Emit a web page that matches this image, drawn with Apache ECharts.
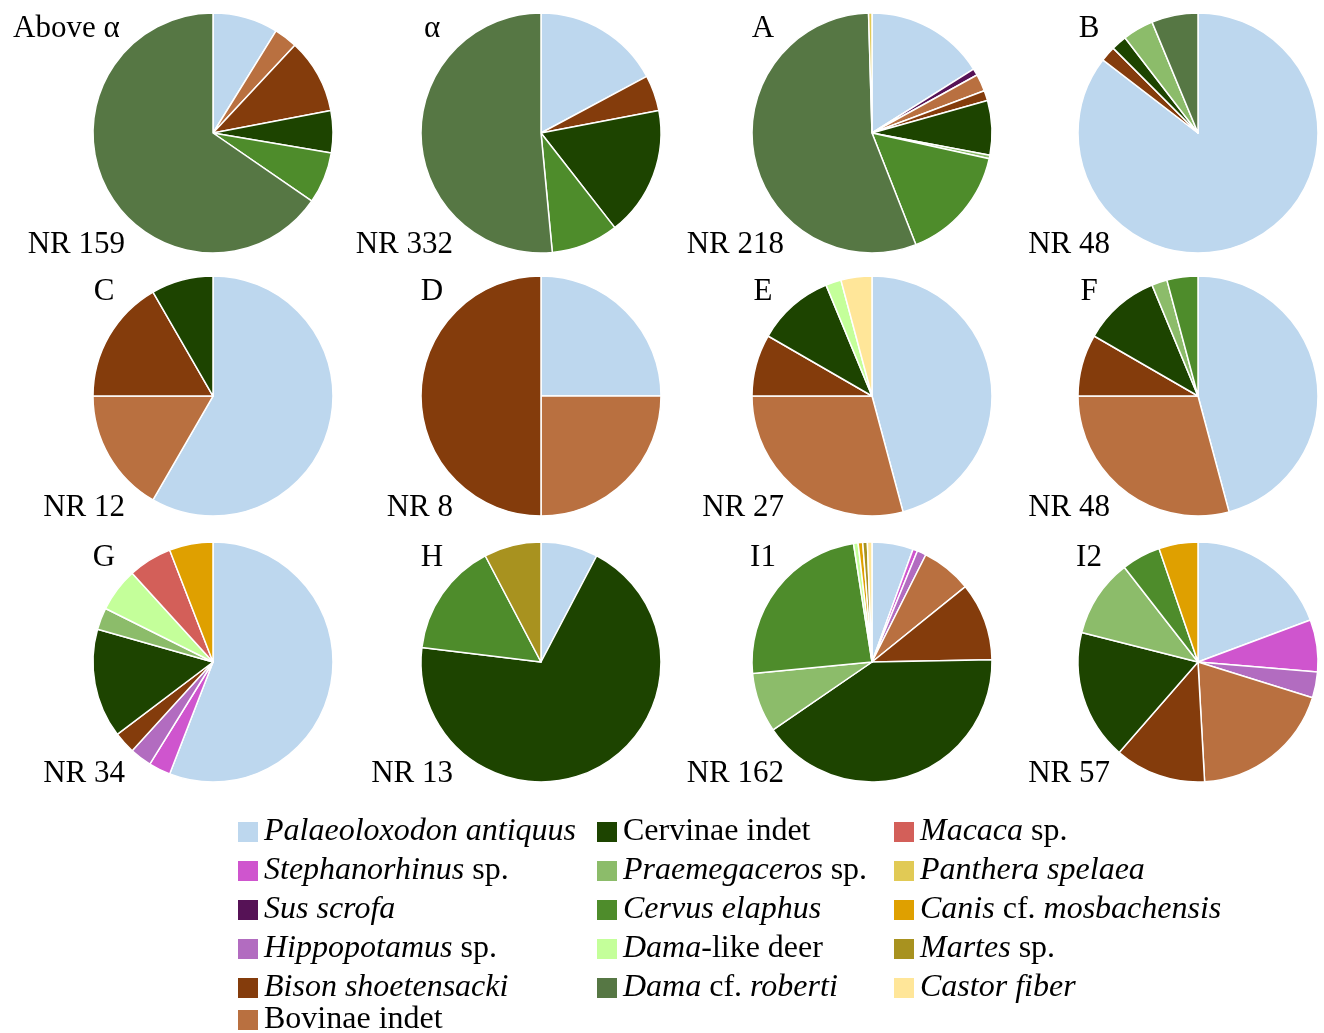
<!DOCTYPE html>
<html><head><meta charset="utf-8">
<script src="https://cdn.jsdelivr.net/npm/echarts@6/dist/echarts.min.js"></script>
<style>html,body{margin:0;padding:0;background:#fff}#c{width:1324px;height:1033px}</style>
</head><body><div id="c"></div>
<script>
// Species in clockwise drawing order
const species = [
  'Palaeoloxodon antiquus','Stephanorhinus sp.','Sus scrofa','Hippopotamus sp.',
  'Bovinae indet','Bison shoetensacki','Cervinae indet','Praemegaceros sp.',
  'Cervus elaphus','Dama-like deer','Dama cf. roberti','Macaca sp.',
  'Panthera spelaea','Canis cf. mosbachensis','Martes sp.','Castor fiber'
];
const speciesLabel = [
  '{i|Palaeoloxodon antiquus}','{i|Stephanorhinus}{n| sp.}','{i|Sus scrofa}','{i|Hippopotamus}{n| sp.}',
  '{n|Bovinae indet}','{i|Bison shoetensacki}','{n|Cervinae indet}','{i|Praemegaceros}{n| sp.}',
  '{i|Cervus elaphus}','{i|Dama}{n|-like deer}','{i|Dama}{n| cf. }{i|roberti}','{i|Macaca}{n| sp.}',
  '{i|Panthera spelaea}','{i|Canis}{n| cf. }{i|mosbachensis}','{i|Martes}{n| sp.}','{i|Castor fiber}'
];
const colors = [
  '#BDD7EE','#CF55CE','#561256','#B26CC0',
  '#B97040','#843C0C','#1D4400','#8CBC6A',
  '#4E8C2B','#C4FF9A','#567744','#D35F59',
  '#E1CA55','#DFA000','#A8921F','#FFE699'
];
const panels = ['Above α','α','A','B','C','D','E','F','G','H','I1','I2'];
const nr = [159,332,218,48,12,8,27,48,34,13,162,57];

// values per panel, aligned with species order
const vAboveAlpha = [14,0,0,0,5,16,9,0,11,0,104,0,0,0,0,0];
const vAlpha      = [57,0,0,0,0,16,58,0,30,0,171,0,0,0,0,0];
const vA          = [35,0,2,0,5,3,16,1,34,0,121,0,1,0,0,0];
const vB          = [41,0,0,0,0,1,1,2,0,0,3,0,0,0,0,0];
const vC          = [7,0,0,0,2,2,1,0,0,0,0,0,0,0,0,0];
const vD          = [2,0,0,0,2,4,0,0,0,0,0,0,0,0,0,0];
const vE          = [22,0,0,0,14,4,5,0,0,1,0,0,0,0,0,2];
const vF          = [22,0,0,0,14,4,5,1,2,0,0,0,0,0,0,0];
const vG          = [19,1,0,1,0,1,5,1,0,2,0,2,0,2,0,0];
const vH          = [1,0,0,0,0,0,9,0,2,0,0,0,0,0,1,0];
const vI1         = [9,1,0,2,11,17,66,13,39,1,0,0,0,1,1,1];
const vI2         = [11,4,0,2,11,7,10,6,3,0,0,0,0,3,0,0];
const values = [vAboveAlpha,vAlpha,vA,vB,vC,vD,vE,vF,vG,vH,vI1,vI2];

// legend blocks (indices into species)
const legendBlocks = [[0,1,2,3,5],[4],[6,7,8,9,10],[11,12,13,14,15]];

// layout
const colX = [213,541,872,1198];
const rowY = [133,396,662];
const R = 120;
const FONT = '"Liberation Serif", "Times New Roman", serif';

const chart = echarts.init(document.getElementById('c'));
const graphics = [];
const series = panels.map((p,i)=>{
  const cx = colX[i%4], cy = rowY[Math.floor(i/4)];
  if (i===0) {
    graphics.push({type:'text', x:13, y:cy-104, style:{text:p, font:'31px '+FONT, fill:'#000', textAlign:'left', textVerticalAlign:'middle', verticalAlign:'middle'}});
  } else {
    graphics.push({type:'text', x:cx-109, y:cy-104, style:{text:p, font:'31px '+FONT, fill:'#000', textAlign:'center', align:'center', textVerticalAlign:'middle', verticalAlign:'middle'}});
  }
  graphics.push({type:'text', x:cx-88, y:cy+112, style:{text:'NR '+nr[i], font:'31px '+FONT, fill:'#000', textAlign:'right', align:'right', textVerticalAlign:'middle', verticalAlign:'middle'}});
  return {
    type:'pie', radius:R, center:[cx,cy], startAngle:90, clockwise:true,
    avoidLabelOverlap:false, label:{show:false}, labelLine:{show:false},
    emphasis:{disabled:true}, silent:true,
    itemStyle:{borderColor:'#fff', borderWidth:1.5},
    data: values[i].map((v,j)=>({name:species[j], value:v, itemStyle:{color:colors[j]}})).filter(d=>d.value>0)
  };
});

const legendPos = [[236,816],[236,1004],[595,816],[892,816]];
const legends = legendBlocks.map((col,k)=>({
  data: col.map(j=>species[j]),
  orient:'vertical', left:legendPos[k][0], top:legendPos[k][1], padding:0,
  itemWidth:22, itemHeight:22, itemGap:7, icon:'rect', selectedMode:false,
  formatter: name => speciesLabel[species.indexOf(name)],
  textStyle:{fontFamily:FONT, fontSize:32, color:'#000', lineHeight:32,
    rich:{
      i:{fontFamily:FONT, fontSize:32, fontStyle:'italic', color:'#000', lineHeight:32},
      n:{fontFamily:FONT, fontSize:32, color:'#000', lineHeight:32}
    }}
}));

chart.setOption({
  animation:false,
  backgroundColor:'#fff',
  legend: legends,
  series: series,
  graphic: graphics
});
</script></body></html>
